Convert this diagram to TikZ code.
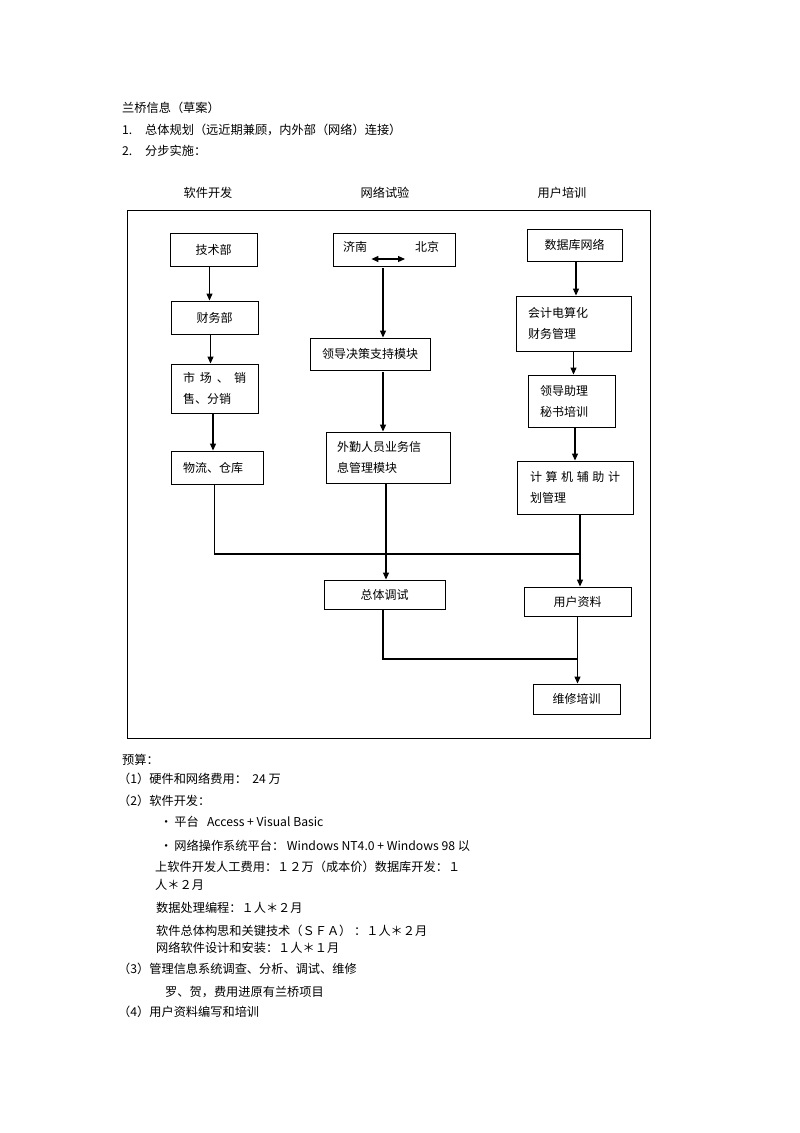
\documentclass[tikz,border=0pt]{standalone}
\usepackage{fontspec}
\setmainfont{Noto Sans CJK SC}
\usetikzlibrary{arrows.meta}

\tikzset{
	box/.style={draw, line width=0.9pt, inner sep=0pt, align=center, font=\fontsize{12}{21}\selectfont},
	lbox/.style={draw, line width=0.9pt, inner xsep=12pt, inner ysep=0pt, align=left, font=\fontsize{12}{21}\selectfont},
	arr/.style={->, line width=1.1pt},
	link/.style={line width=1.1pt},
	txt/.style={anchor=west, inner sep=0pt},
}

\begin{document}
\begin{tikzpicture}[x=1pt,y=-1pt,>={Triangle[length=7pt,width=6pt]},font=\fontsize{12.2}{21}\selectfont]
	\useasboundingbox (0,0) rectangle (800,1133);

	% heading
	\node[txt] (title) at (122,108) {兰桥信息（草案）};
	\node[txt] (n1) at (122,130) {1.};
	\node[txt] (plan) at (145,130) {总体规划（远近期兼顾，内外部（网络）连接）};
	\node[txt] (n2) at (122,151) {2.};
	\node[txt] (steps) at (145,151) {分步实施：};

	% columns
	\node (hsoft) at (208,193) {软件开发};
	\node (hnet) at (385,193) {网络试验};
	\node (huser) at (562,193) {用户培训};
	\draw[line width=0.9pt] (127,210) rectangle (650,738);

	% software column
	\node[box, minimum width=87pt, minimum height=33pt] (jishu) at (213.5,249.5) {技术部};
	\node[box, minimum width=87pt, minimum height=33pt] (caiwu) at (214.5,317.5) {财务部};
	\node[lbox, text width=63pt, minimum height=49pt] (shichang) at (214.5,388.5) {\makebox[63pt][s]{市\hfill 场\hfill 、\hfill 销}\\售、分销};
	\node[lbox, text width=68pt, minimum height=33pt] (wuliu) at (217,467.5) {物流、仓库};

	% network column
	\node[box, minimum width=122pt, minimum height=33pt] (jinan) at (394,249.5) {};
	\node[txt, font=\fontsize{12}{21}\selectfont] (jn) at (343,247) {济南};
	\node[txt, font=\fontsize{12}{21}\selectfont] (bj) at (415,247) {北京};
	\node[box, minimum width=120pt, minimum height=32pt] (lingdao) at (370,354) {领导决策支持模块};
	\node[lbox, inner xsep=11pt, text width=102pt, minimum height=51pt] (waiqin) at (388,457.5) {外勤人员业务信\\息管理模块};
	\node[box, minimum width=121pt, minimum height=29pt] (tiaoshi) at (384.5,594.5) {总体调试};

	% user column
	\node[box, minimum width=95pt, minimum height=32pt] (shuju) at (574.5,245) {数据库网络};
	\node[lbox, text width=91pt, minimum height=55pt] (kuaiji) at (573.5,323.5) {会计电算化\\财务管理};
	\node[lbox, text width=63pt, minimum height=52pt] (zhuli) at (571.5,401) {领导助理\\秘书培训};
	\node[lbox, inner xsep=13pt, text width=90pt, minimum height=53pt] (jisuanji) at (575,487.5) {\makebox[90pt][s]{计\hfill 算\hfill 机\hfill 辅\hfill 助\hfill 计}\\划管理};
	\node[box, minimum width=107pt, minimum height=29pt] (yonghu) at (577.5,601.5) {用户资料};
	\node[box, minimum width=87pt, minimum height=30pt] (weixiu) at (576.5,699) {维修培训};

	% connectors
	\draw[arr] ([xshift=-4pt]jishu.south) -- ([xshift=-4pt]jishu.south |- caiwu.north);
	\draw[arr] ([xshift=-4pt]caiwu.south) -- ([xshift=-4pt]caiwu.south |- shichang.north);
	\draw[arr] ([xshift=-1.5pt]shichang.south) -- ([xshift=-1.5pt]shichang.south |- wuliu.north);
	\draw[<->, line width=1.1pt] ([xshift=4pt,yshift=-12pt]jn.east) -- ([xshift=-10pt,yshift=-12pt]bj.west);
	\draw[arr, shorten <=2pt] ([xshift=-11pt]jinan.south) -- ([xshift=-11pt]jinan.south |- lingdao.north);
	\draw[arr, shorten <=2pt] ([xshift=13pt]lingdao.south) -- ([xshift=13pt]lingdao.south |- waiqin.north);
	\draw[arr] ([xshift=-2pt]waiqin.south) -- ([xshift=-2pt]waiqin.south |- tiaoshi.north);
	\draw[arr] ([xshift=1.5pt]shuju.south) -- ([xshift=1.5pt]shuju.south |- kuaiji.north);
	\draw[arr] (kuaiji.south) -- (kuaiji.south |- zhuli.north);
	\draw[arr] ([xshift=3.5pt]zhuli.south) -- ([xshift=3.5pt]zhuli.south |- jisuanji.north);
	\draw[arr] ([xshift=5pt]jisuanji.south) -- ([xshift=5pt]jisuanji.south |- yonghu.north);
	\draw[arr] (yonghu.south) -- (yonghu.south |- weixiu.north);
	\coordinate (join) at (580,554);
	\draw[link, line width=0.6pt] ([xshift=-3pt]wuliu.south) -- ([xshift=-3pt]wuliu.south |- join);
	\draw[link] ([xshift=-3pt]wuliu.south |- join) -- (join);
	\coordinate (join2) at (577,659);
	\draw[link] ([xshift=-1.5pt]tiaoshi.south) |- (join2);

	% budget
	\node[txt] (budget) at (122,760) {预算：};
	\node[txt] (b1) at (118,779) {（1）硬件和网络费用：\ \ 24 万};
	\node[txt] (b2) at (118,801) {（2）软件开发：};
	\node[txt] (b21) at (160,822) {•\,平台\ \ \ Access + Visual Basic};
	\node[txt] (b22) at (160,846) {•\,网络操作系统平台：\ Windows NT4.0 + Windows 98 以};
	\node[txt] (b23) at (155,867) {上软件开发人工费用：１２万（成本价）数据库开发：１};
	\node[txt] (b24) at (155,885) {人＊２月};
	\node[txt] (b25) at (156,908) {数据处理编程：１人＊２月};
	\node[txt] (b26) at (156,931) {软件总体构思和关键技术（ＳＦＡ）\ ：１人＊２月};
	\node[txt] (b27) at (156,948) {网络软件设计和安装：１人＊１月};
	\node[txt] (b3) at (118,969) {（3）管理信息系统调查、分析、调试、维修};
	\node[txt] (b31) at (165,992) {罗、贺，费用进原有兰桥项目};
	\node[txt] (b4) at (118,1012) {（4）用户资料编写和培训};
\end{tikzpicture}
\end{document}
